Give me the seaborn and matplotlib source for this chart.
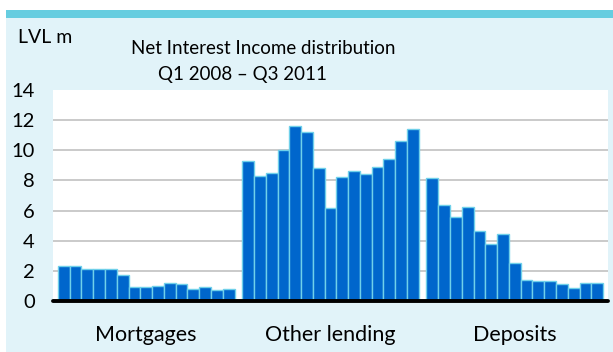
import matplotlib
matplotlib.use('Agg')
import matplotlib.pyplot as plt
from matplotlib.patches import Rectangle
import pandas as pd
import seaborn as sns

# Net Interest Income, LVL m, Q1 2008 - Q3 2011 (15 quarters per group)
grupos = ['Mortgages', 'Other lending', 'Deposits']
mortgages = [2.3, 2.3, 2.1, 2.1, 2.1, 1.7, 0.9, 0.9, 1.0, 1.2, 1.1, 0.8, 0.9, 0.7, 0.8]
other_lending = [9.3, 8.3, 8.5, 10.0, 11.6, 11.2, 8.8, 6.15, 8.25, 8.65, 8.4, 8.9, 9.4, 10.6, 11.4]
deposits = [8.15, 6.35, 5.6, 6.25, 4.65, 3.8, 4.45, 2.5, 1.4, 1.3, 1.3, 1.1, 0.85, 1.2, 1.2]
y_ticks = [0, 2, 4, 6, 8, 10, 12, 14]

COLOR_FONDO = '#e1f3f9'
COLOR_BANDA = '#66cde0'
COLOR_BARRA = '#0066cc'
COLOR_BORDE = '#6fd0ea'
FUENTE = ['Liberation Sans Narrow', 'Lato', 'DejaVu Sans']

# posiciones: 15 barras por grupo y un hueco entre grupos
PASO = 15.65
filas = []
for g, serie in enumerate([mortgages, other_lending, deposits]):
    for i, v in enumerate(serie):
        filas.append({'pos': g * PASO + i, 'valor': v, 'grupo': grupos[g]})
df = pd.DataFrame(filas)

sns.set_style('white')
plt.rcParams['font.family'] = FUENTE
plt.rcParams['text.color'] = 'black'
plt.rcParams['ytick.color'] = 'black'
plt.rcParams['xtick.color'] = 'black'

fig = plt.figure(figsize=(6.13, 3.52), dpi=100, facecolor='white')
fig.patches.append(Rectangle((6 / 613, 0), 1, (352 - 18) / 352, transform=fig.transFigure,
                             facecolor=COLOR_FONDO, edgecolor='none', zorder=-5))
fig.patches.append(Rectangle((6 / 613, (352 - 18) / 352), 1, 8 / 352, transform=fig.transFigure,
                             facecolor=COLOR_BANDA, edgecolor='none', zorder=-5))

ax = fig.add_axes([53 / 613, 51 / 352, 555 / 613, 211 / 352])
ax.set_facecolor('white')

sns.barplot(data=df, x='pos', y='valor', native_scale=True, width=1.0,
            color=COLOR_BARRA, saturation=1, edgecolor=COLOR_BORDE, linewidth=1.0,
            errorbar=None, ax=ax, zorder=3)

for y in y_ticks[1:-1]:
    ax.axhline(y, color='#c6c6c6', lw=1.3, zorder=1)
ax.axhline(0, color='black', lw=2.8, zorder=4, clip_on=False)

ax.set_ylim(0, 14)
ax.set_xlim(-0.92, 2 * PASO + 14 + 0.92)
ax.set_yticks(y_ticks)
ax.set_yticklabels([str(t) for t in y_ticks], fontsize=14.5)
ax.tick_params(axis='y', length=0, pad=13)
centros = [g * PASO + 7 for g in range(3)]
ax.set_xticks(centros)
ax.set_xticklabels(grupos, fontsize=15.5)
ax.tick_params(axis='x', length=0, pad=17)
ax.set_xlabel('')
ax.set_ylabel('')
for s in ax.spines.values():
    s.set_visible(False)

fig.text(18 / 613, 1 - 43 / 352, 'LVL m', fontsize=14, ha='left', va='baseline')
fig.text(263 / 613, 1 - 54 / 352, 'Net Interest Income distribution', fontsize=13.5,
         ha='center', va='baseline')
fig.text(243 / 613, 1 - 80 / 352, 'Q1 2008 \u2013 Q3 2011', fontsize=13.5,
         ha='center', va='baseline')

fig.savefig('out.png', dpi=100, facecolor=fig.get_facecolor())
plt.close(fig)
